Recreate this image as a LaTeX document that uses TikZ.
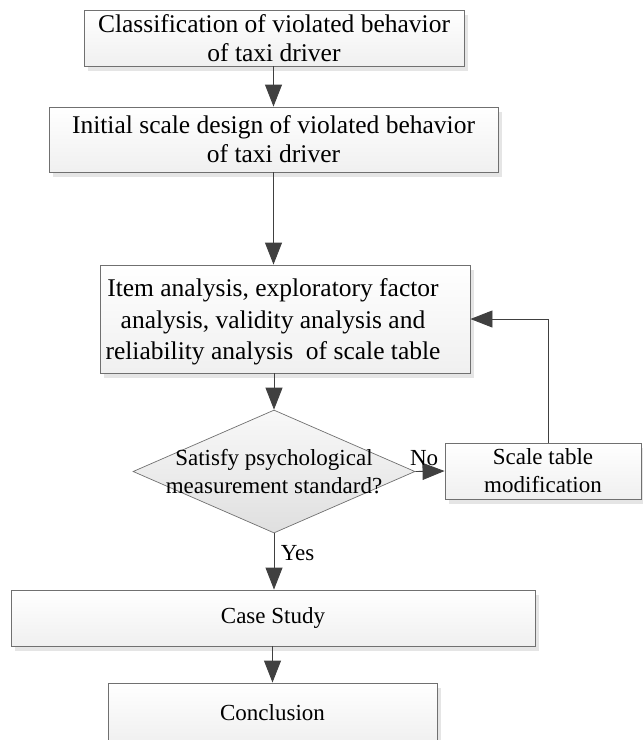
\documentclass[tikz,border=0pt]{standalone}
\usepackage{fontspec}
\setmainfont{Liberation Serif}
\usetikzlibrary{arrows.meta,shapes.geometric,shadows}
\definecolor{boxline}{HTML}{707070}
\definecolor{arrowgray}{HTML}{404040}

\begin{document}
\begin{tikzpicture}[x=1pt,y=-1pt]
\tikzstyle{box}=[draw=boxline,line width=0.9pt,top color=white,bottom color=gray!12,
  drop shadow={shadow xshift=4pt,shadow yshift=-5pt,fill=gray!20,opacity=1},
  inner sep=0pt,align=center]
\tikzstyle{bigtxt}=[font=\fontsize{25.5}{29}\selectfont]
\tikzstyle{smalltxt}=[font=\fontsize{23}{28}\selectfont]
\tikzstyle{decision}=[diamond,draw=boxline,line width=0.7pt,top color=gray!5,bottom color=gray!25,inner sep=0pt]
\tikzstyle{arr}=[draw=arrowgray,line width=0.9pt,-{Triangle[length=22pt,width=17pt]},arrowgray]
\tikzstyle{answer}=[smalltxt,text=black]
\useasboundingbox (0,0) rectangle (643,740);
\node[box,bigtxt,minimum width=380pt,minimum height=56pt] (classify) at (274,38) {Classification of violated behavior\\of taxi driver};
\node[box,bigtxt,minimum width=449pt,minimum height=65pt] (init) at (273.5,139.5) {Initial scale design of violated behavior\\of taxi driver};
\node[box,minimum width=370pt,minimum height=108pt,
  label={[bigtxt,align=center,xshift=-12pt,yshift=-3pt,font=\fontsize{25.5}{31.5}\selectfont]center:Item analysis, exploratory factor\\analysis, validity analysis and\\reliability analysis \ of scale table}] (ana) at (285,319) {};
\node[decision,minimum width=282pt,minimum height=123pt,
  label={[smalltxt,align=center]center:Satisfy psychological\\measurement standard?}] (check) at (274,471.5) {};
\node[box,smalltxt,minimum width=196pt,minimum height=56pt] (modify) at (543,471) {Scale table\\modification};
\node[box,smalltxt,minimum width=524pt,minimum height=56pt] (case) at (273,618) {Case Study};
\node[box,smalltxt,minimum width=329pt,minimum height=60pt] (concl) at (272.5,713) {Conclusion};
% connectors
\draw[arr] (classify.south -| init.north) -- (init.north);
\draw[arr] (init.south) -- (init.south |- ana.north);
\draw[arr] (check.north |- ana.south) -- (check.north);
\draw[arr] (check.east) -- node[answer,above,pos=0.3,yshift=2pt] {No} (modify.west);
\draw[arr] ([xshift=5pt]modify.north) |- (ana.east);
\draw[arr] (check.south) -- node[answer,right,pos=0.35,xshift=3pt] {Yes} (check.south |- case.north);
\draw[arr] (case.south -| concl.north) -- (concl.north);
\end{tikzpicture}
\end{document}
